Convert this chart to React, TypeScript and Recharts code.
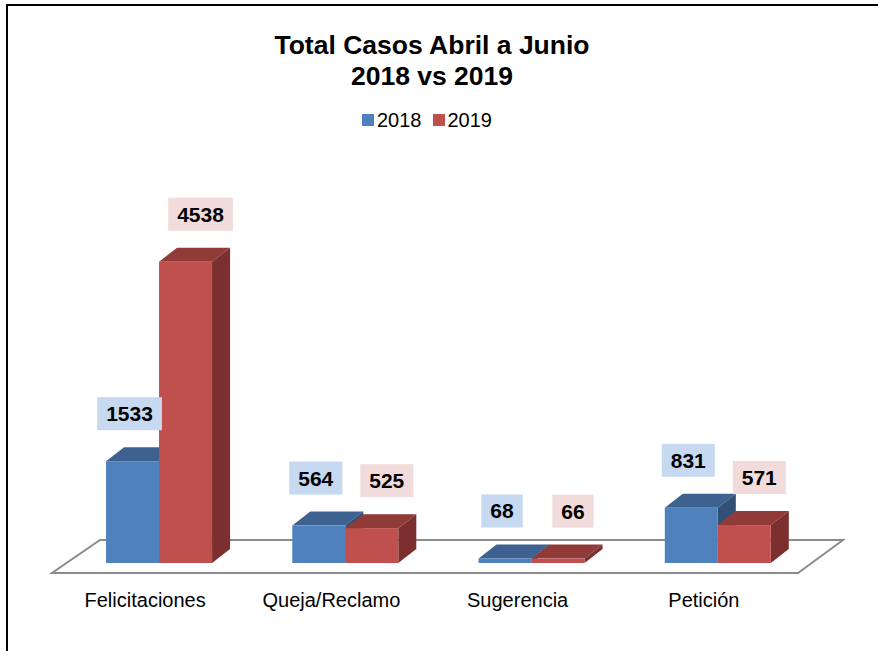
import React from 'react';
import { BarChart, Bar, XAxis, YAxis, LabelList, ReferenceArea } from 'recharts';

const categories = ['Felicitaciones', 'Queja/Reclamo', 'Sugerencia', 'Petición'];
const values2018 = [1533, 564, 68, 831];
const values2019 = [4538, 525, 66, 571];
const seriesNames = ['2018', '2019'];
const titleLines = ['Total Casos Abril a Junio', '2018 vs 2019'];

const data = categories.map((c, i) => ({ name: c, y2018: values2018[i], y2019: values2019[i] }));

const FONT = '"Liberation Sans", Arial, sans-serif';
const DX = 18;
const DY = 14;

const BLUE = { front: '#4f81bd', top: '#3d6290', side: '#324f75', label: '#c6d9f1', shift: -3 };
const RED = { front: '#c0504d', top: '#913b39', side: '#7b2f2e', label: '#f2dcdb', shift: 15 };

const make3D = (c: any) => (props: any) => {
  const x = Number(props.x);
  const y = Number(props.y);
  const w = Number(props.width);
  const h = Number(props.height);
  if (!isFinite(x) || !isFinite(y)) return null;
  return (
    <g>
      <polygon points={`${x},${y} ${x + DX},${y - DY} ${x + w + DX},${y - DY} ${x + w},${y}`} fill={c.top} />
      <polygon points={`${x + w},${y} ${x + w + DX},${y - DY} ${x + w + DX},${y + h - DY} ${x + w},${y + h}`} fill={c.side} />
      <rect x={x} y={y} width={w} height={h} fill={c.front} />
    </g>
  );
};

const makeLabel = (c: any) => (props: any) => {
  const x = Number(props.x);
  const y = Number(props.y);
  const width = Number(props.width);
  const text = String(props.value);
  const w = text.length * 11.7 + 18;
  const h = 33;
  const cx = x + width / 2 + c.shift;
  const bottom = y - 31;
  return (
    <g>
      <rect x={cx - w / 2} y={bottom - h} width={w} height={h} fill={c.label} />
      <text x={cx} y={bottom - h / 2 + 7.5} textAnchor="middle" fontFamily={FONT} fontWeight="bold" fontSize={21} fill="#000">
        {text}
      </text>
    </g>
  );
};

const Floor = (props: any) => {
  const x = Number(props.x);
  const w = Number(props.width);
  const bottom = Number(props.y) + Number(props.height);
  const fy = bottom + 10;
  const by = bottom - 23;
  return (
    <polygon
      points={`${x - 14},${fy} ${x + w - 13},${fy} ${x + w + 32},${by} ${x + 34},${by}`}
      fill="#ffffff"
      stroke="#8c8c8c"
      strokeWidth={2}
    />
  );
};

const Tick = (props: any) => {
  const { x, y, payload } = props;
  return (
    <text x={Number(x) - 14} y={Number(y) + 44} textAnchor="middle" fontFamily={FONT} fontSize={20} fill="#000">
      {payload.value}
    </text>
  );
};

export default function App() {
  return (
    <div style={{ position: 'absolute', left: 0, top: 0, width: 878, height: 651, overflow: 'hidden', background: '#fff' }}>
      <div style={{ position: 'absolute', left: 6, top: 4, right: -10, bottom: -10, borderLeft: '2px solid #000', borderTop: '2px solid #000' }} />
      <div style={{ position: 'absolute', left: 0, top: 30, width: 864, textAlign: 'center', fontFamily: FONT, fontWeight: 'bold', fontSize: 26.5, lineHeight: '31px', color: '#000' }}>
        <div>{titleLines[0]}</div>
        <div>{titleLines[1]}</div>
      </div>
      <div style={{ position: 'absolute', left: 362, top: 108, fontFamily: FONT, fontSize: 20, lineHeight: '24px', color: '#000', display: 'flex', alignItems: 'center', whiteSpace: 'nowrap' }}>
        <span style={{ display: 'inline-block', width: 12, height: 12, background: BLUE.front, marginRight: 3 }} />
        <span style={{ marginRight: 11 }}>{seriesNames[0]}</span>
        <span style={{ display: 'inline-block', width: 12, height: 12, background: RED.front, marginRight: 3 }} />
        <span>{seriesNames[1]}</span>
      </div>
      <div style={{ position: 'absolute', left: 0, top: 0 }}>
        <BarChart
          width={878}
          height={651}
          data={data}
          margin={{ top: 231, right: 67, bottom: 48, left: 66 }}
          barCategoryGap="21.5%"
          barGap={0}
        >
          <XAxis dataKey="name" height={40} axisLine={false} tickLine={false} tickSize={0} tickMargin={0} tick={<Tick />} interval={0} />
          <YAxis hide domain={[0, 5000]} />
          <ReferenceArea y1={0} y2={1} shape={<Floor />} ifOverflow="visible" />
          <Bar dataKey="y2018" name={seriesNames[0]} isAnimationActive={false} shape={make3D(BLUE)}>
            <LabelList dataKey="y2018" content={makeLabel(BLUE)} />
          </Bar>
          <Bar dataKey="y2019" name={seriesNames[1]} isAnimationActive={false} shape={make3D(RED)}>
            <LabelList dataKey="y2019" content={makeLabel(RED)} />
          </Bar>
        </BarChart>
      </div>
    </div>
  );
}
